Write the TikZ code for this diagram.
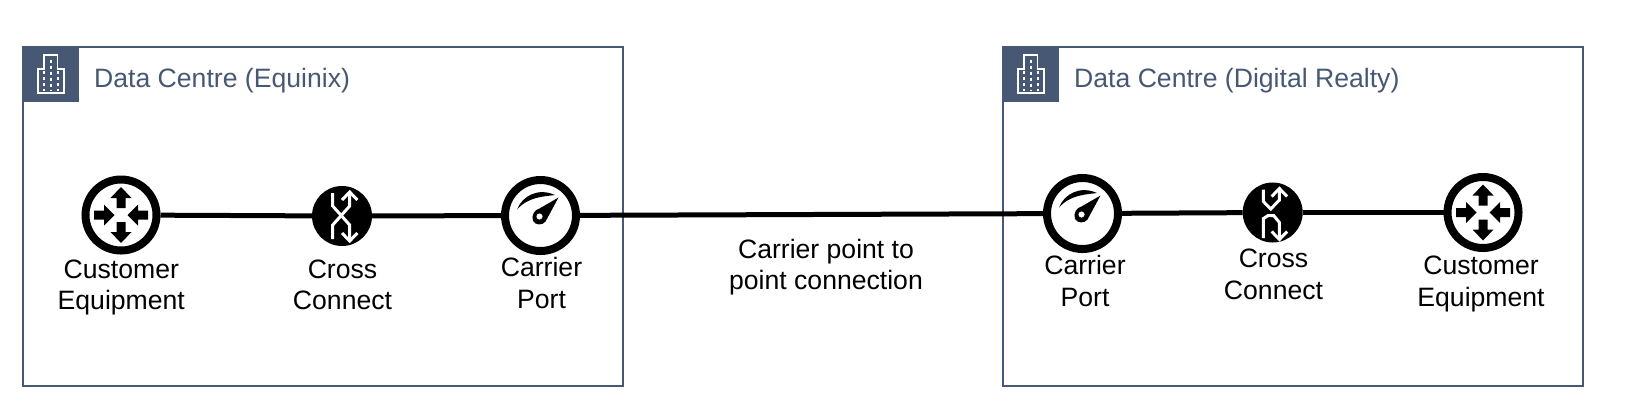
\documentclass[tikz,border=0pt]{standalone}
\usepackage{fontspec}
\setmainfont{Liberation Sans}
\definecolor{slateb}{HTML}{475875}
\tikzset{
  dcbox/.style={draw=slateb,line width=2bp,fill=white,rectangle,inner sep=0pt,anchor=north west},
  dchead/.style={fill=slateb,rectangle,inner sep=0pt,minimum size=56bp,anchor=north west},
  dctitle/.style={text=slateb,anchor=west,inner sep=0pt,font=\fontsize{26.7}{31.5}\selectfont},
  tag/.style={align=center,inner sep=0pt,text=black,font=\fontsize{26.7}{31.5}\selectfont},
  ringnode/.style={circle,draw=black,line width=8bp,fill=white,inner sep=0pt,minimum size=71bp},
  xcnode/.style={circle,fill=black,inner sep=0pt,minimum size=60bp},
  link/.style={draw=black,line width=5bp},
  glyphw/.style={draw=white,line width=3bp},
  building/.pic={
    \draw[white,line width=1.6bp] (-13,12.5) -- (13,12.5) -- (13,-11.8) -- (6.4,-11.8) -- (6.4,-25.8) -- (-7,-25.8) -- (-7,-11.8) -- (-13,-11.8) -- cycle;
    \draw[white,line width=1.6bp,dash pattern=on 3bp off 3bp] (-7,-9.5) -- (-7,10) (7,-9.5) -- (7,10) (0,-21) -- (0,10);
  },
  routerglyphb/.pic={
    \fill[black] (4.5,-7) -- (4.5,-17) -- (10.5,-17) -- (0,-28) -- (-10.5,-17) -- (-4.5,-17) -- (-4.5,-7) -- cycle;
    \fill[black] (4.5,7) -- (4.5,17) -- (10.5,17) -- (0,28) -- (-10.5,17) -- (-4.5,17) -- (-4.5,7) -- cycle;
    \fill[black] (-27,-4.5) -- (-17,-4.5) -- (-17,-10.5) -- (-6.5,0) -- (-17,10.5) -- (-17,4.5) -- (-27,4.5) -- cycle;
    \fill[black] (27,-4.5) -- (17,-4.5) -- (17,-10.5) -- (6.5,0) -- (17,10.5) -- (17,4.5) -- (27,4.5) -- cycle;
  },
  gaugeglyph/.pic={
    \fill[black] (-23.5,-6) .. controls (-18,-20) and (-2,-28) .. (14.5,-20.5) .. controls (4,-19) and (-12,-19) .. (-23.5,-6) -- cycle;
    \fill[black,even odd rule] (18,-18) -- (5,6) .. controls (2,10) and (-5,10) .. (-7.5,5.5) .. controls (-9.5,0) and (-6,-6) .. (-1,-7) -- cycle (-1,1) circle[radius=3.2];
  },
  xcglyph/.pic={
    \draw[glyphw] (-9.3,-23) -- (-9.3,-10) -- (7.7,9) -- (7.7,24);
    \draw[glyphw] (7.7,-24) -- (7.7,-10) -- (-9.3,9) -- (-9.3,23);
    \draw[glyphw] (0,-16) -- (7.7,-24) -- (15.4,-16);
    \draw[glyphw] (0,17) -- (7.7,25) -- (15.4,17);
  },
  xcglyphb/.pic={
    \draw[glyphw] (-9.3,-23) -- (-9.3,-11) -- (-2,-3.5) -- (6.7,-12.5) -- (6.7,-23);
    \draw[glyphw] (-9.3,25.5) -- (-9.3,6) -- (-4.5,3) -- (1,3) -- (6.7,10) -- (6.7,26);
    \draw[glyphw] (-1,-16) -- (6.7,-24) -- (14.4,-16);
    \draw[glyphw] (-1,19) -- (6.7,27) -- (14.4,19);
  }
}
\begin{document}
\begin{tikzpicture}[x=1bp,y=-1bp]
\useasboundingbox (0,0) rectangle (1639,409);
% containers
\node[dcbox,minimum width=600bp,minimum height=339.5bp] (boxa) at (22,45.5) {};
\node[dcbox,minimum width=580bp,minimum height=339.5bp] (boxb) at (1002,45.5) {};
\node[dchead] (heada) at (22.5,45.5) {};
\node[dchead] (headb) at (1002.5,45.5) {};
\pic at (51,80.5) {building};
\pic at (1031,80.5) {building};
\node[dctitle] (titlea) at (94,81) {Data Centre (Equinix)};
\node[dctitle] (titleb) at (1074,81) {Data Centre (Digital Realty)};
% equipment
\node[ringnode] (routera) at (121,215) {};
\node[xcnode] (xca) at (342,216) {};
\node[ringnode] (porta) at (540.5,215.5) {};
\node[ringnode] (portb) at (1082.5,213.5) {};
\node[xcnode] (xcb) at (1272.7,212.5) {};
\node[ringnode] (routerb) at (1483,212.5) {};
% connectors
\draw[link] (routera) -- (xca);
\draw[link] (xca) -- (porta);
\draw[link] (porta) -- (portb);
\draw[link] (portb) -- (xcb);
\draw[link] (xcb) -- (routerb);
% glyphs
\pic at (routera) {routerglyphb};
\pic at (routerb) {routerglyphb};
\pic at (xca) {xcglyph};
\pic at (xcb) {xcglyphb};
\pic at (porta) {gaugeglyph};
\pic at (portb) {gaugeglyph};
% labels
\node[tag] (ta) at (121.3,287.5) {Customer\\Equipment};
\node[tag] (tb) at (342.5,285) {Cross\\Connect};
\node[tag] (tc) at (541.5,283) {Carrier\\Port};
\node[tag] (td) at (826,267) {Carrier point to\\point connection};
\node[tag] (te) at (1085,281) {Carrier\\Port};
\node[tag] (tf) at (1273.5,274.5) {Cross\\Connect};
\node[tag] (tg) at (1481,284) {Customer\\Equipment};
\end{tikzpicture}
\end{document}
